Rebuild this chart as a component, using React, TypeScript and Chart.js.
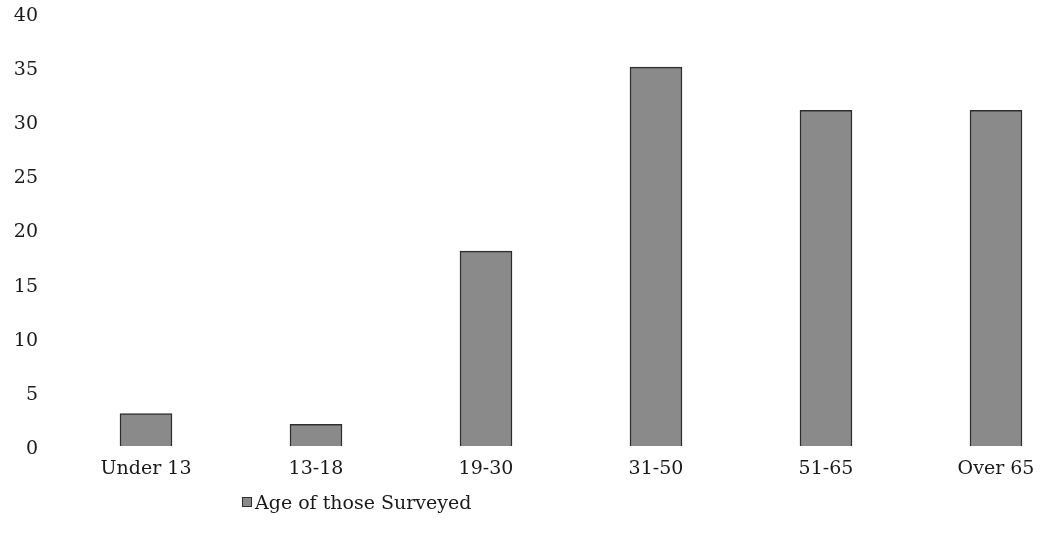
import React, { useEffect, useRef } from "react";
import { Chart, registerables } from "chart.js";

Chart.register(...registerables);

const categories = ["Under 13", "13-18", "19-30", "31-50", "51-65", "Over 65"];
const ageValues = [3, 2, 18, 35, 31, 31];
const seriesName = "Age of those Surveyed";
const yTicks = [0, 5, 10, 15, 20, 25, 30, 35, 40];

const FONT = "'DejaVu Serif', Georgia, serif";
const FILL = "#8a8a8a";
const EDGE = "#2e2e2e";

export default function App() {
  const ref = useRef<HTMLCanvasElement | null>(null);

  useEffect(() => {
    document.documentElement.style.overflow = "hidden";
    document.body.style.overflow = "hidden";
    const ctx = ref.current!.getContext("2d")!;
    const chart = new Chart(ctx, {
      type: "bar",
      data: {
        labels: categories,
        datasets: [
          {
            label: seriesName,
            data: ageValues,
            backgroundColor: FILL,
            borderColor: EDGE,
            borderWidth: 1.5,
            barThickness: 52,
          },
        ],
      },
      options: {
        animation: false,
        responsive: false,
        maintainAspectRatio: false,
        layout: { padding: { left: 13, top: 13, right: 0, bottom: 0 } },
        plugins: {
          legend: { display: false },
          tooltip: { enabled: false },
        },
        scales: {
          x: {
            grid: { display: false, drawTicks: false },
            border: { display: false },
            afterFit: (axis: any) => {
              axis.height = 95;
              axis.paddingLeft = 0;
              axis.paddingRight = 0;
            },
            ticks: {
              color: "#1a1a1a",
              font: { family: FONT, size: 19 },
              padding: 12,
            },
          },
          y: {
            min: 0,
            max: 40,
            grid: { display: false, drawTicks: false },
            border: { display: false },
            afterBuildTicks: (axis: any) => {
              axis.ticks = yTicks.map((v) => ({ value: v }));
            },
            afterFit: (axis: any) => {
              axis.width = 48;
              axis.paddingTop = 0;
              axis.paddingBottom = 0;
            },
            ticks: {
              color: "#1a1a1a",
              font: { family: FONT, size: 19 },
              padding: 23,
              labelOffset: 3,
            },
          },
        },
      },
    });
    return () => chart.destroy();
  }, []);

  return (
    <div style={{ position: "fixed", left: 0, top: 0, width: 1081, height: 541, background: "#fff" }}>
      <canvas ref={ref} width={1081} height={541} style={{ display: "block" }} />
      <div
        style={{
          position: "absolute",
          left: 242,
          top: 491,
          height: 22,
          lineHeight: "22px",
          fontFamily: FONT,
          fontSize: 19,
          color: "#1a1a1a",
          display: "flex",
          alignItems: "center",
          whiteSpace: "nowrap",
        }}
      >
        <span
          style={{
            display: "inline-block",
            width: 8,
            height: 8,
            background: FILL,
            border: `1px solid ${EDGE}`,
            marginRight: 3,
          }}
        />
        {seriesName}
      </div>
    </div>
  );
}
